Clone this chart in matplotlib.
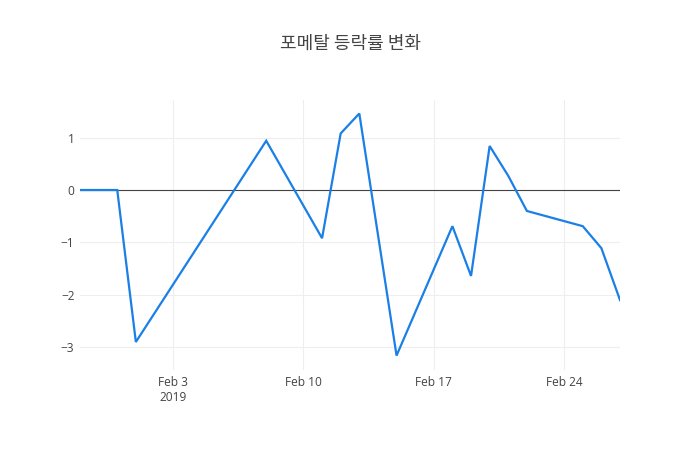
import matplotlib
matplotlib.use("Agg")
import matplotlib.pyplot as plt
import pandas as pd

dates = ["2019-01-29", "2019-01-30", "2019-01-31", "2019-02-01", "2019-02-08",
         "2019-02-11", "2019-02-12", "2019-02-13", "2019-02-15", "2019-02-18",
         "2019-02-19", "2019-02-20", "2019-02-21", "2019-02-22", "2019-02-25",
         "2019-02-26", "2019-02-27"]
changes = [0.0, 0.0, 0.0, -2.90, 0.94, -0.92, 1.08, 1.46, -3.16, -0.69,
           -1.64, 0.84, 0.27, -0.40, -0.69, -1.11, -2.10]
title = "포메탈 등락률 변화"
xtick_dates = ["2019-02-03", "2019-02-10", "2019-02-17", "2019-02-24"]
xtick_labels = ["Feb 3\n2019", "Feb 10", "Feb 17", "Feb 24"]
ytick_vals = [-3, -2, -1, 0, 1]

x = pd.to_datetime(dates)

plt.rcParams['font.family'] = ['Open Sans', 'Noto Sans CJK KR', 'DejaVu Sans']

fig = plt.figure(figsize=(7, 4.5), dpi=100)
ax = fig.add_axes([80/700, 80/450, 540/700, 270/450])

ax.plot(x, changes, color='#1a7fe6', linewidth=1.6, zorder=3, solid_joinstyle='miter')
ax.axhline(0, color='#444444', linewidth=0.8, zorder=2)

ax.set_xlim(pd.Timestamp("2019-01-29"), pd.Timestamp("2019-02-27"))
ax.set_ylim(-3.435, 1.718)

ax.set_xticks(pd.to_datetime(xtick_dates))
ax.set_xticklabels(xtick_labels)
ax.set_yticks(ytick_vals)
ax.set_yticklabels([str(v).replace('-', '\u2212') for v in ytick_vals])

ax.grid(True, color='#eeeeee', linewidth=0.8, zorder=0)
for s in ax.spines.values():
    s.set_visible(False)
ax.tick_params(axis='both', length=0, labelsize=8.6, colors='#444444')
ax.tick_params(axis='x', pad=4)
ax.tick_params(axis='y', pad=4)
for lbl in ax.get_xticklabels():
    lbl.set_linespacing(1.2)

fig.text(0.5, 1 - 44/450, title, ha='center', va='center', fontsize=13,
         color='#444444', family=['Noto Sans CJK KR', 'DejaVu Sans'])

fig.savefig("out.png", dpi=100, facecolor='white')
